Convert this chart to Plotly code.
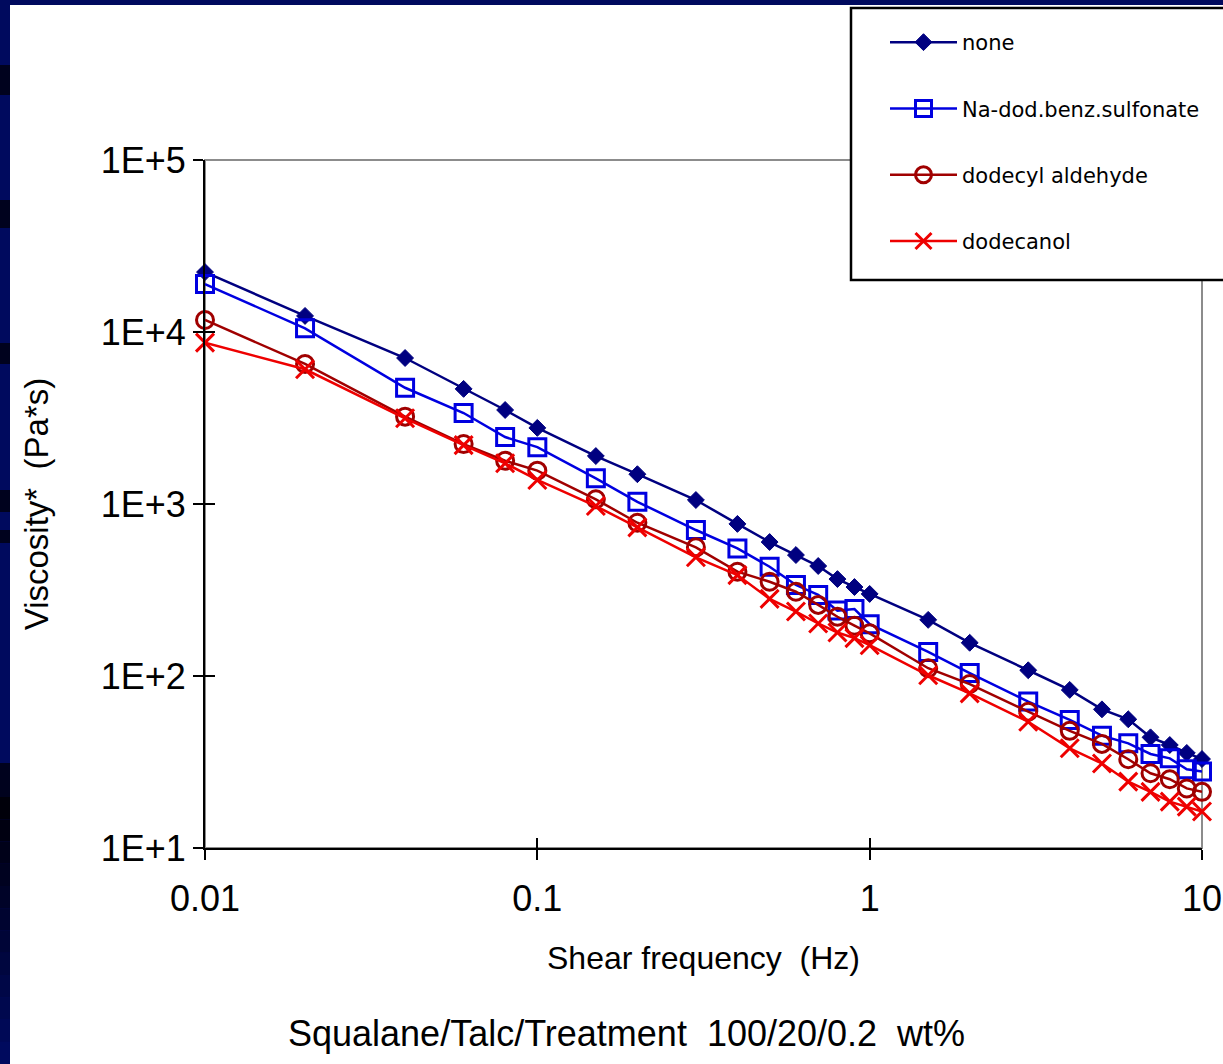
import plotly.graph_objects as go

# ---------------- data ----------------
freq = [0.01, 0.02, 0.04, 0.06, 0.08, 0.1, 0.15, 0.2, 0.3, 0.4, 0.5, 0.6, 0.7,
        0.8, 0.9, 1, 1.5, 2, 3, 4, 5, 6, 7, 8, 9, 10]

none_vals = [22300, 12400, 7060, 4670, 3520, 2770, 1900, 1490, 1055, 766, 601,
             505, 436, 366, 329, 300, 212, 156, 108, 83, 64, 56, 44, 39.7, 35.7, 32.9]
nadod_vals = [19000, 10500, 4740, 3380, 2450, 2140, 1410, 1030, 706, 552, 432,
              338, 296, 240, 245, 200, 138, 104, 71, 55.5, 45, 40.6, 35.2, 33.2, 28.7, 27.8]
aldehyde_vals = [11750, 6520, 3220, 2230, 1785, 1563, 1065, 778, 560, 404, 353,
                 309, 259, 221, 196, 177, 111, 89.8, 62, 48, 40.3, 32.8, 27.2, 25.1, 22.2, 21.2]
dodecanol_vals = [8670, 6070, 3150, 2200, 1725, 1380, 973, 731, 490, 386, 281,
                  237, 202, 179, 166, 151, 101, 79.3, 54.2, 38, 31, 24.3, 21.2, 18.6, 17.4, 16.3]

series_names = ["none", "Na-dod.benz.sulfonate", "dodecyl aldehyde", "dodecanol"]

x_tickvals = [0.01, 0.1, 1, 10]
x_ticktext = ["0.01", "0.1", "1", "10"]
y_tickvals = [10, 100, 1000, 10000, 100000]
y_ticktext = ["1E+1", "1E+2", "1E+3", "1E+4", "1E+5"]

x_title = "Shear frequency  (Hz)"
y_title = "Viscosity*  (Pa*s)"
caption = "Squalane/Talc/Treatment  100/20/0.2  wt%"

# ---------------- layout geometry ----------------
W, H = 1223, 1064
ML, MR, MT, MB = 205, 21, 160, 216
PW, PH = W - ML - MR, H - MT - MB


def px(xp):
    return (xp - ML) / PW


def py(yp):
    return (H - MB - yp) / PH


NAVY_BG = "#000A5E"

styles = [
    dict(color="#000080", symbol="diamond", size=13, lw=1),
    dict(color="#0000E0", symbol="square-open", size=17, lw=3),
    dict(color="#A00000", symbol="circle-open", size=17, lw=3),
    dict(color="#EE0000", symbol="x-thin-open", size=18, lw=3),
]
all_vals = [none_vals, nadod_vals, aldehyde_vals, dodecanol_vals]

fig = go.Figure()
for name, vals, st in zip(series_names, all_vals, styles):
    fig.add_trace(go.Scatter(
        x=freq, y=vals, name=name, mode="lines+markers",
        legendgroup=name, cliponaxis=False,
        line=dict(color=st["color"], width=2.5),
        marker=dict(symbol=st["symbol"], size=st["size"], color=st["color"],
                    line=dict(color=st["color"], width=st["lw"])),
    ))

# invisible helper trace for the inner-tick overlay axes
fig.add_trace(go.Scatter(x=[], y=[], xaxis="x2", yaxis="y2", showlegend=False,
                         hoverinfo="skip"))

tick_font = dict(family="Liberation Sans Narrow, Liberation Sans, Arial", size=36, color="black")

shapes = []
# slide background strips
shapes.append(dict(type="rect", xref="paper", yref="paper", x0=px(0), x1=px(1223),
                   y0=py(5), y1=py(0), fillcolor=NAVY_BG, line=dict(width=0), layer="below"))
shapes.append(dict(type="rect", xref="paper", yref="paper", x0=px(0), x1=px(10),
                   y0=py(1064), y1=py(0), fillcolor=NAVY_BG, line=dict(width=0), layer="below"))
for a, b in [(65, 95), (200, 228), (343, 364), (490, 512), (530, 543), (763, 797)]:
    shapes.append(dict(type="rect", xref="paper", yref="paper", x0=px(0), x1=px(10),
                       y0=py(b), y1=py(a), fillcolor="#00021E", line=dict(width=0), layer="below"))
# gradient at bottom left
steps = 12
for i in range(steps):
    a = 797 + (1064 - 797) * i / steps
    b = 797 + (1064 - 797) * (i + 1) / steps
    t = i / (steps - 1)
    g = int(10 * t)
    bl = int(10 + (94 - 10) * t)
    shapes.append(dict(type="rect", xref="paper", yref="paper", x0=px(0), x1=px(10),
                       y0=py(b), y1=py(a), fillcolor=f"rgb(0,{g},{bl})",
                       line=dict(width=0), layer="below"))
# grey plot-area border
shapes.append(dict(type="rect", xref="paper", yref="paper", x0=0, x1=1, y0=0, y1=1,
                   line=dict(color="#8C8C8C", width=2), layer="below"))
# legend box
shapes.append(dict(type="rect", xref="paper", yref="paper", x0=px(851), x1=px(1240),
                   y0=py(280), y1=py(8), fillcolor="white",
                   line=dict(color="black", width=2.5), layer="above"))

fig.update_layout(
    width=W, height=H,
    margin=dict(l=ML, r=MR, t=MT, b=MB, autoexpand=False),
    paper_bgcolor="white", plot_bgcolor="white",
    showlegend=True,
    legend=dict(
        x=px(885), y=py(22), xanchor="left", yanchor="top",
        bgcolor="rgba(0,0,0,0)", borderwidth=0,
        font=dict(family="DejaVu Sans", size=21, color="black"),
        itemwidth=67, tracegroupgap=36, traceorder="grouped",
    ),
    xaxis=dict(
        type="log", range=[-2, 1], showgrid=False, zeroline=False,
        showline=True, linecolor="black", linewidth=2,
        ticks="outside", ticklen=10, tickwidth=2, tickcolor="black",
        tickvals=x_tickvals, ticktext=x_ticktext, tickfont=tick_font,
        ticklabelstandoff=8,
        title=dict(text=x_title, font=dict(family="Liberation Sans, Arial", size=32, color="black"),
                   standoff=28),
    ),
    xaxis2=dict(
        type="log", range=[-2, 1], overlaying="x", anchor="y", side="bottom",
        showgrid=False, zeroline=False, showline=False,
        ticks="inside", ticklen=10, tickwidth=2, tickcolor="black",
        tickvals=x_tickvals, showticklabels=False,
    ),
    yaxis=dict(
        type="log", range=[1, 5], showgrid=False, zeroline=False,
        showline=True, linecolor="black", linewidth=2,
        ticks="outside", ticklen=10, tickwidth=2, tickcolor="black",
        tickvals=y_tickvals, ticktext=y_ticktext, tickfont=tick_font,
        title=dict(text=y_title, font=dict(family="Liberation Sans, Arial", size=33, color="black"),
                   standoff=42),
    ),
    yaxis2=dict(
        type="log", range=[1, 5], overlaying="y", anchor="x", side="left",
        showgrid=False, zeroline=False, showline=False,
        ticks="inside", ticklen=10, tickwidth=2, tickcolor="black",
        tickvals=y_tickvals, showticklabels=False,
    ),
    shapes=shapes,
    annotations=[dict(
        text=caption, xref="paper", yref="paper", x=px(626), y=py(1033),
        xanchor="center", yanchor="middle", showarrow=False,
        font=dict(family="Liberation Sans Narrow, Liberation Sans, Arial", size=36, color="black"),
    )],
)

fig.write_html("out.html")
